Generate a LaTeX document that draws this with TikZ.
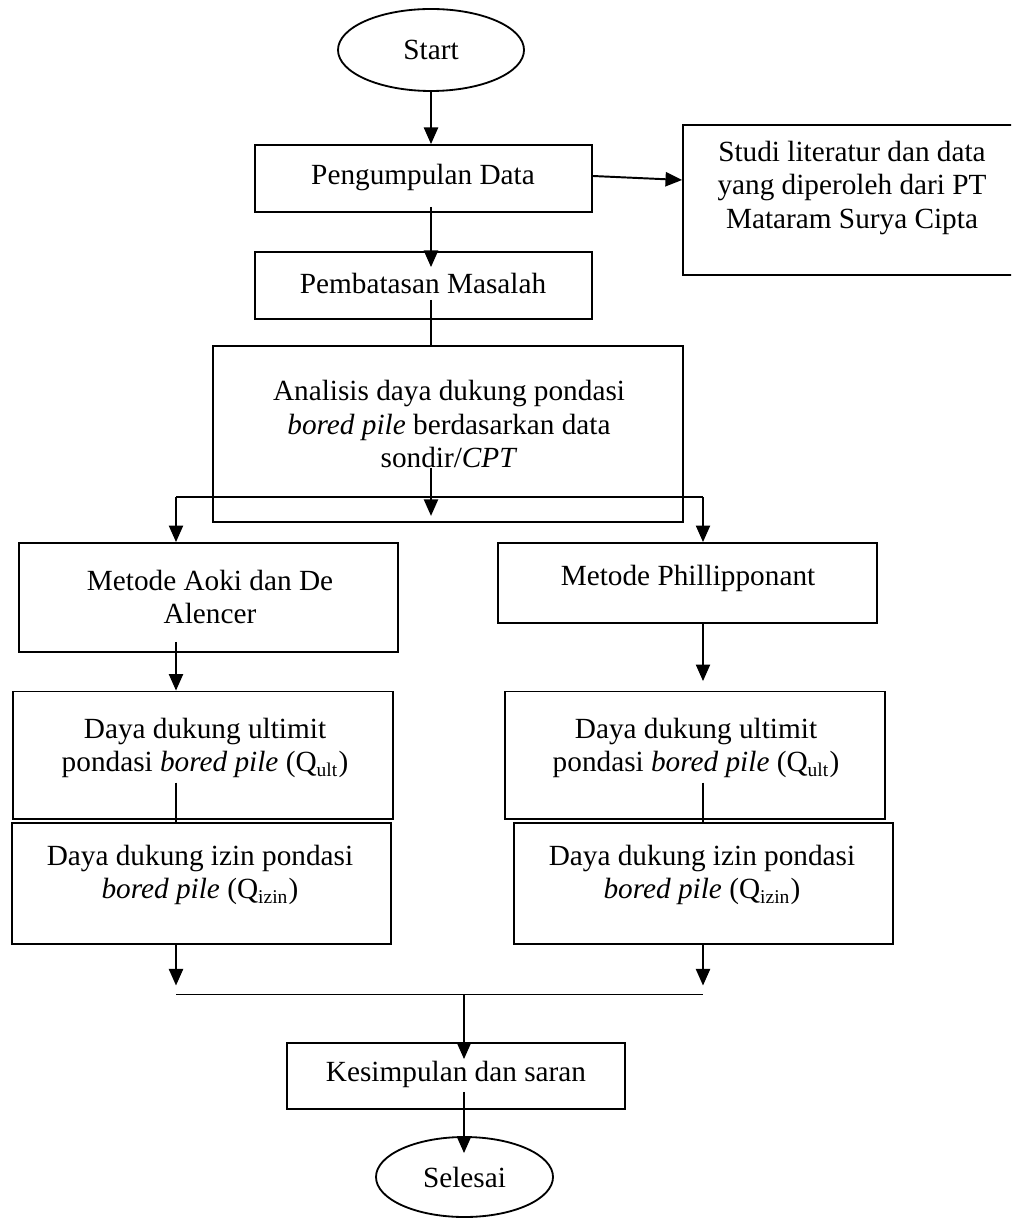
\documentclass[tikz,border=0pt]{standalone}
\usepackage{fontspec}
\setmainfont{Liberation Serif}
\usetikzlibrary{arrows.meta,calc,fit,shapes.geometric}
\begin{document}
\begin{tikzpicture}[x=0.41pt,y=-0.41pt,
  box/.style={draw,line width=0.75pt,inner sep=0pt,rectangle},
  oval/.style={draw,line width=0.75pt,ellipse,inner sep=0pt},
  txt/.style={align=center,inner sep=0pt,font=\fontsize{12pt}{13.8pt}\selectfont},
  conn/.style={line width=0.8pt},
  arr/.style={line width=0.8pt,-{Triangle[length=6.8pt,width=5.8pt]}}]
\useasboundingbox (0,0) rectangle (1011,1221);
% axes
\coordinate (ax) at (431,0);
\coordinate (sl) at (176,497);
\coordinate (sr) at (703,497);
\coordinate (ml) at (176,994.5);
\coordinate (mr) at (703,994.5);
\coordinate (mc) at (464,994.5);
% nodes
\node[oval,minimum width=186*0.41pt,minimum height=82*0.41pt,txt] (start) at (431,50) {Start};
\node[box,fit={(255,145) (592,212)}] (pd) {};
\node[txt] (pdt) at (423,178) {Pengumpulan Data};
\begin{scope}
\clip (0,0) rectangle (1011,1221);
\node[box,fit={(683,125) (1025,275)}] (st) {};
\end{scope}
\node[txt] (stt) at (852,188) {Studi literatur dan data\\yang diperoleh dari PT\\Mataram Surya Cipta};
\node[box,fit={(255,252) (592,319)}] (pm) {};
\node[txt] (pmt) at (423,283) {Pembatasan Masalah};
\node[box,fit={(213,346) (683,522)}] (an) {};
\node[txt] (ant) at (449,424) {Analisis daya dukung pondasi\\\textit{bored pile} berdasarkan data\\sondir/\textit{CPT}};
\node[box,fit={(19,543) (398,652)}] (ak) {};
\node[txt] (akt) at (210,597) {Metode Aoki dan De\\Alencer};
\node[box,fit={(498,543) (877,623)}] (ph) {};
\node[txt] (pht) at (688,578) {Metode Phillipponant};
\node[box,fit={(13,691.5) (393,819)}] (ul) {};
\node[txt] (ult) at (205,748) {Daya dukung ultimit\\pondasi \textit{bored pile} (Q\textsubscript{ult})};
\node[box,fit={(505,691.5) (885,819)}] (ur) {};
\node[txt] (urt) at (696,748) {Daya dukung ultimit\\pondasi \textit{bored pile} (Q\textsubscript{ult})};
\node[box,fit={(12,823) (391,944)}] (il) {};
\node[txt] (ilt) at (200,875) {Daya dukung izin pondasi\\\textit{bored pile} (Q\textsubscript{izin})};
\node[box,fit={(514,823) (893,944)}] (ir) {};
\node[txt] (irt) at (702,875) {Daya dukung izin pondasi\\\textit{bored pile} (Q\textsubscript{izin})};
\node[box,fit={(287,1043) (625,1109)}] (ks) {};
\node[txt] (kst) at (456,1074) {Kesimpulan dan saran};
\node[oval,minimum width=177*0.41pt,minimum height=80*0.41pt,txt] (fin) at (464.5,1177) {Selesai};
% connectors
\draw[arr] (start.south) -- (start.south |- pd.north);
\draw[arr] ($(pd.east)+(0,-2.5)$) -- ($(st.west)+(0,-20)$);
\draw[arr] ($(ax |- pd.south)+(0,-6)$) -- ($(ax |- pm.north)+(0,16)$);
\draw[conn] ($(ax |- pm.south)+(0,-20)$) -- (ax |- an.north);
\draw[arr] ($(ax |- an.south)+(0,-55)$) -- ($(ax |- an.south)+(0,-7)$);
\draw[conn] (sl) -- (sr);
\draw[arr] (sl) -- (sl |- ak.north);
\draw[arr] (sr) -- (sr |- ph.north);
\draw[arr] ($(sl |- ak.south)+(0,-11)$) -- (sl |- ul.north);
\draw[arr] (sr |- ph.south) -- ($(sr |- ur.north)+(0,-9.5)$);
\draw[conn] ($(sl |- ul.south)+(0,-37.4)$) -- (sl |- il.north);
\draw[conn] ($(sr |- ur.south)+(0,-37.4)$) -- (sr |- ir.north);
\draw[arr] (sl |- il.south) -- ($(ml)+(0,-9)$);
\draw[arr] (sr |- ir.south) -- ($(mr)+(0,-9)$);
\draw[conn] (ml) -- (mr);
\draw[arr] (mc) -- ($(mc |- ks.north)+(0,17)$);
\draw[arr] ($(mc |- ks.south)+(0,-18)$) -- ($(mc |- fin.north)+(0,17)$);
\end{tikzpicture}
\end{document}
